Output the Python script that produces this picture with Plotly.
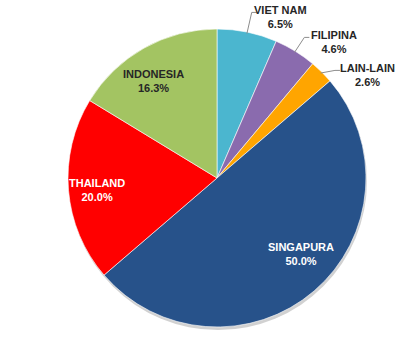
import math
import plotly.graph_objects as go

labels = ["VIET NAM", "FILIPINA", "LAIN-LAIN", "SINGAPURA", "THAILAND", "INDONESIA"]
values = [6.5, 4.6, 2.6, 50.0, 20.0, 16.3]
colors = ["#4BB6CF", "#8A6BAE", "#FFA500", "#27528A", "#FF0000", "#A3C462"]
text_colors = ["#262626", "#262626", "#262626", "#FFFFFF", "#FFFFFF", "#262626"]
outside = [True, True, True, False, False, False]

W, H = 420, 350
CX, CY, R = 217, 178, 149

# label placement tuning: (angle offset deg, radius factor)
label_tune = [(10, 1.16), (9, 1.20), (11, 1.22), (-7, 0.76), (-1, 0.81), (-4, 0.78)]

fig = go.Figure()
fig.add_trace(go.Pie(
    labels=labels, values=values, sort=False, direction="clockwise", rotation=0,
    marker=dict(colors=colors, line=dict(color="rgba(255,255,255,0.6)", width=1)),
    textinfo="none", hoverinfo="label+percent", showlegend=False,
    domain=dict(x=[(CX - R) / W, (CX + R) / W], y=[1 - (CY + R) / H, 1 - (CY - R) / H]),
))

def to_paper(px, py):
    return px / W, 1 - py / H

# shadow
fig.add_shape(type="circle", xref="paper", yref="paper", layer="below",
              x0=(CX - R + 1) / W, x1=(CX + R + 1) / W,
              y0=1 - (CY + R + 3) / H, y1=1 - (CY - R + 3) / H,
              fillcolor="rgba(0,0,0,0.18)", line=dict(width=0))

total = sum(values)
cum = 0
for i, (lab, v) in enumerate(zip(labels, values)):
    mid = (cum + v / 2) / total * 360
    cum += v
    da, rf = label_tune[i]
    ang = math.radians(mid + da)
    px = CX + R * rf * math.sin(ang)
    py = CY - R * rf * math.cos(ang)
    x, y = to_paper(px, py)
    fig.add_annotation(x=x, y=y, xref="paper", yref="paper", showarrow=False,
                       xanchor="center", yanchor="middle",
                       text=f"<b>{lab}</b><br><b>{v:.1f}%</b>",
                       font=dict(family="Liberation Sans, Arial", size=11, color=text_colors[i]),
                       align="center")
    if outside[i]:
        a0 = math.radians(mid)
        sx = CX + R * 0.99 * math.sin(a0)
        sy = CY - R * 0.99 * math.cos(a0)
        halfw = len(lab) * 2.9
        ex = px - halfw - 6
        ey = py - 5
        mx = px - halfw - 1
        x0, y0 = to_paper(sx, sy)
        x1, y1 = to_paper(ex, ey)
        x2, y2 = to_paper(mx, ey)
        fig.add_shape(type="line", xref="paper", yref="paper", x0=x0, y0=y0, x1=x1, y1=y1,
                      line=dict(color="#8C8C8C", width=1))
        fig.add_shape(type="line", xref="paper", yref="paper", x0=x1, y0=y1, x1=x2, y1=y2,
                      line=dict(color="#8C8C8C", width=1))

fig.update_layout(width=W, height=H, margin=dict(l=0, r=0, t=0, b=0),
                  paper_bgcolor="white", plot_bgcolor="white")
fig.write_html("out.html")
